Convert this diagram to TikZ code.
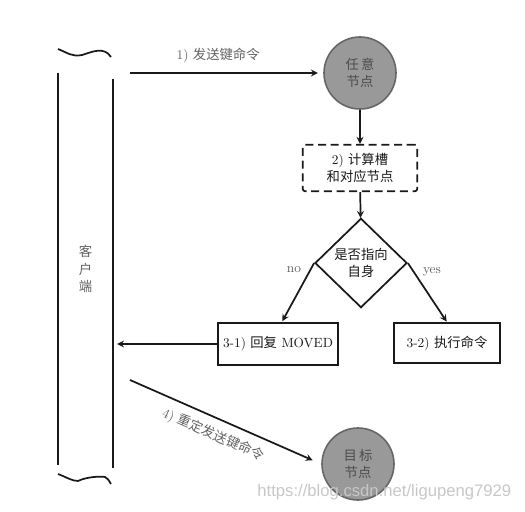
\documentclass[tikz,border=0pt]{standalone}
\usepackage{fontspec}
\newfontfamily\cjk{Noto Sans CJK SC}
\newfontfamily\wmfont{Liberation Sans}
\usepackage{tikz}
\usetikzlibrary{positioning}
\usetikzlibrary{arrows}
\usetikzlibrary{shapes.geometric}
\tikzset{
every node/.style={ % Grey text everywhere
text=black!62,
font=\fontsize{10}{12.5}\selectfont},
stroke/.style={line width=1.3pt, black!90},
nodeball/.style={ % Round nodes (cluster members)
circle,
draw=black!60,
line width=1.2pt,
fill=black!40,
text=black!70,
minimum size=54pt,
align=center},
stepbox/.style={
draw,
stroke,
minimum width=86pt,
minimum height=35pt,
align=center},
decision/.style={
diamond,
draw,
stroke,
shape aspect=1,
minimum width=69pt,
minimum height=67pt,
inner sep=0pt,
align=center},
every edge/.style={ % Connectors
draw,
->,
>=stealth,
stroke}}

\begin{document}
\begin{tikzpicture}[x=0.75pt, y=-0.75pt]
\useasboundingbox (0,0) rectangle (525,511);
% client column
\node[minimum width=41pt, minimum height=294pt, align=center, font=\cjk\fontsize{10}{13}\selectfont] (client) at (85.5,269) {客\\户\\端};
\draw[stroke] (client.north west) -- (client.south west);
\draw[stroke] ([yshift=-5pt]client.north east) -- ([yshift=-2pt]client.south east);
\draw[stroke] (58,49) .. controls (68,53) and (72,57) .. (82,55)
  .. controls (92,52) and (104,46) .. (111,57);
\draw[stroke] (58,474) .. controls (66,477) and (72,481) .. (78,481)
  .. controls (86,477) and (100,476) .. (105,477) .. controls (108,479) .. (111,484);
% nodes
\node[nodeball] (q1) at (360,73) {\cjk 任\,意\\\cjk 节点};
\node[stepbox, dashed, dash pattern=on 6pt off 3.5pt, rounded corners=2pt] (calc) at (360,168) {2) {\cjk 计算槽}\\{\cjk 和对应节点}};
\node[decision] (check) at (361,263) {{\cjk 是否指向}\\{\cjk 自身}};
\node[stepbox, minimum width=90pt, minimum height=32pt, inner sep=1pt] (reply) at (278,344) {3-1) {\cjk 回复} MOVED};
\node[stepbox, minimum width=80pt, minimum height=30pt] (exec) at (447,343) {3-2) {\cjk 执行命令}};
\node[nodeball] (q2) at (358,464) {\cjk 目\,标\\\cjk 节点};
\coordinate (redirect) at (130,380);
% connectors
\draw (client.east |- q1) edge[shorten <=13pt, shorten >=4pt] node[above=4pt] {1) {\cjk 发送键命令}} (q1);
\draw (q1) edge (calc);
\draw (calc) edge (check);
\draw (check.west) edge[shorten >=0.5pt] node[pos=0.12, left=3pt] {no} ([xshift=3pt]reply.north);
\draw (check.east) edge[shorten >=0.5pt] node[pos=0.15, right=3pt] {yes} (exec.north);
\draw (reply.west) edge[shorten >=3pt] (client.east |- reply.west);
\draw (redirect) edge[shorten >=7pt] node[pos=0.47, sloped, below=3pt] {4) {\cjk 重定发送键命令}} (q2.west);
\node[anchor=east, text=black!22, font=\wmfont\fontsize{12.5}{14}\selectfont] (mark) at (516,492) {https://blog.csdn.net/ligupeng7929};
\end{tikzpicture}
\end{document}
